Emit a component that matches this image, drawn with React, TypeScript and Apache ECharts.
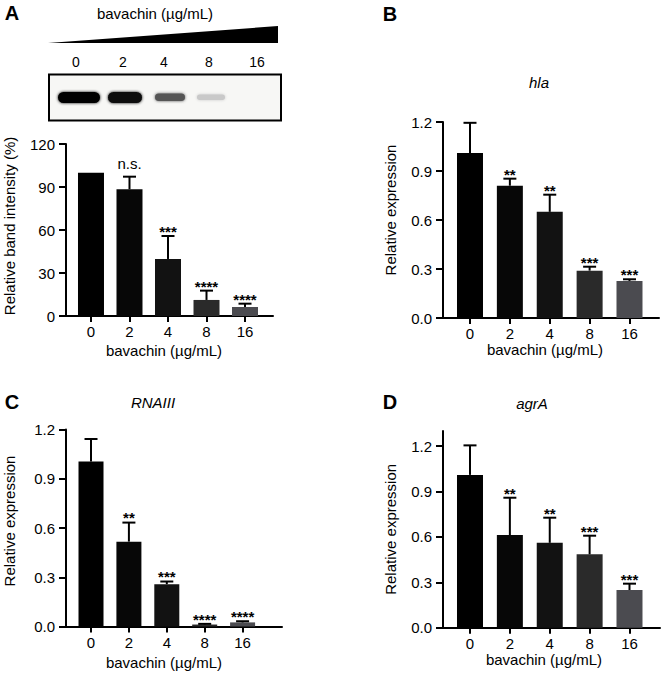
import React, { useEffect, useRef } from "react";
import * as echarts from "echarts";

// ---------- data ----------
const doses = ["0", "2", "4", "8", "16"];
const doseIndex = [0, 1, 2, 3, 4];

const bandMean = [100, 88.4, 39.8, 11.2, 6.3];
const bandSd = [0, 8.8, 16.0, 6.5, 2.3];
const bandSig = ["", "n.s.", "***", "****", "****"];

const hlaMean = [1.01, 0.81, 0.65, 0.29, 0.227];
const hlaSd = [0.185, 0.043, 0.105, 0.024, 0.01];
const hlaSig = ["", "**", "**", "***", "***"];

const rnaMean = [1.005, 0.517, 0.258, 0.012, 0.025];
const rnaSd = [0.137, 0.116, 0.016, 0.004, 0.007];
const rnaSig = ["", "**", "***", "****", "****"];

const agrMean = [1.01, 0.612, 0.561, 0.485, 0.249];
const agrSd = [0.195, 0.247, 0.166, 0.123, 0.042];
const agrSig = ["", "**", "**", "***", "***"];

const pctTicks = [0, 30, 60, 90, 120];
const exprTicks = [0, 0.3, 0.6, 0.9, 1.2];

// ---------- styles / layout ----------
const FONT = "'Liberation Sans', Arial, Helvetica, sans-serif";
const barColors = ["#000000", "#070707", "#121212", "#2a2a2a", "#4b4b50"];
const laneX = [76, 123, 164, 209, 257];

type Panel = {
  mean: number[];
  sd: number[];
  sig: string[];
  ticks: number[];
  yMax: number;
  dec: number;
  grid: { left: number; top: number; width: number; height: number };
  xMin: number;
  xMax: number;
  yName: string;
  yNameGap: number;
  yNameShift: number;
  xNameGap: number;
  xNameShift: number;
  barWidth: number;
};

const panels: Panel[] = [
  {
    mean: bandMean, sd: bandSd, sig: bandSig, ticks: pctTicks, yMax: 120, dec: 0,
    grid: { left: 66, top: 144, width: 207, height: 172 },
    xMin: -0.649, xMax: 4.727,
    yName: "Relative band intensity (%)", yNameGap: 49, yNameShift: 8,
    xNameGap: 27, xNameShift: 11, barWidth: 26,
  },
  {
    mean: hlaMean, sd: hlaSd, sig: hlaSig, ticks: exprTicks, yMax: 1.2, dec: 1,
    grid: { left: 443, top: 122, width: 216, height: 196 },
    xMin: -0.677, xMax: 4.74,
    yName: "Relative expression", yNameGap: 45, yNameShift: 20,
    xNameGap: 24, xNameShift: 12, barWidth: 26,
  },
  {
    mean: rnaMean, sd: rnaSd, sig: rnaSig, ticks: exprTicks, yMax: 1.2, dec: 1,
    grid: { left: 66, top: 429.5, width: 216, height: 197 },
    xMin: -0.66, xMax: 5.04,
    yName: "Relative expression", yNameGap: 49, yNameShift: 14,
    xNameGap: 28, xNameShift: 20, barWidth: 25,
  },
  {
    mean: agrMean, sd: agrSd, sig: agrSig, ticks: exprTicks, yMax: 1.3, dec: 1,
    grid: { left: 443, top: 431, width: 217, height: 196.7 },
    xMin: -0.677, xMax: 4.765,
    yName: "Relative expression", yNameGap: 45, yNameShift: 0,
    xNameGap: 21, xNameShift: 15, barWidth: 26,
  },
];

function buildOption() {
  const grids = panels.map((p) => ({ ...p.grid, containLabel: false, outerBoundsMode: "none" }));

  const xAxes = panels.map((p, i) => ({
    type: "value",
    gridIndex: i,
    min: p.xMin,
    max: p.xMax,
    axisLine: { show: true, onZero: false, lineStyle: { color: "#000", width: 2 } },
    axisTick: { show: true, length: 6, lineStyle: { color: "#000", width: 2 }, customValues: doseIndex },
    axisLabel: {
      customValues: doseIndex,
      formatter: (v: number) => doses[Math.round(v)] ?? "",
      fontSize: 15,
      color: "#000",
      fontFamily: FONT,
      margin: 8,
    },
    splitLine: { show: false },
    name: "bavachin (µg/mL)",
    nameLocation: "middle",
    nameGap: p.xNameGap,
    nameTextStyle: { fontSize: 15, color: "#000", fontFamily: FONT, padding: [0, p.xNameShift, 0, 0] },
  }));

  const yAxes = panels.map((p, i) => ({
    type: "value",
    gridIndex: i,
    min: 0,
    max: p.yMax,
    axisLine: { show: true, onZero: false, lineStyle: { color: "#000", width: 2 } },
    axisTick: { show: true, length: 7, lineStyle: { color: "#000", width: 2 }, customValues: p.ticks },
    axisLabel: {
      customValues: p.ticks,
      formatter: (v: number) => v.toFixed(p.dec),
      fontSize: 15,
      color: "#000",
      fontFamily: FONT,
      margin: 11,
    },
    splitLine: { show: false },
    name: p.yName,
    nameLocation: "middle",
    nameRotate: 90,
    nameGap: p.yNameGap,
    nameTextStyle: { fontSize: 15, color: "#000", fontFamily: FONT, padding: [0, 0, 0, p.yNameShift] },
  }));

  const series: any[] = [];
  panels.forEach((p, i) => {
    series.push({
      type: "bar",
      xAxisIndex: i,
      yAxisIndex: i,
      barWidth: p.barWidth,
      data: p.mean.map((m, k) => [doseIndex[k], m]),
      itemStyle: { color: (params: any) => barColors[params.dataIndex] },
      emphasis: { disabled: true },
      z: 2,
    });
    series.push({
      type: "custom",
      xAxisIndex: i,
      yAxisIndex: i,
      data: p.mean.map((m, k) => [doseIndex[k], m, m + p.sd[k]]),
      z: 3,
      renderItem: (params: any, api: any) => {
        const x = api.value(0);
        const v = api.value(1);
        const e = api.value(2);
        const top = api.coord([x, e]);
        const bar = api.coord([x, v]);
        const cx = top[0];
        const children: any[] = [];
        if (e > v) {
          children.push({
            type: "line",
            shape: { x1: cx, y1: bar[1], x2: cx, y2: top[1] },
            style: { stroke: "#000", lineWidth: 2 },
          });
          children.push({
            type: "line",
            shape: { x1: cx - 6.5, y1: top[1], x2: cx + 6.5, y2: top[1] },
            style: { stroke: "#000", lineWidth: 2 },
          });
        }
        const label = p.sig[params.dataIndex];
        if (label) {
          const isStar = label.indexOf("*") >= 0;
          children.push({
            type: "text",
            x: cx,
            y: top[1] - (isStar ? 4.6 : 13),
            style: {
              text: label,
              fill: "#000",
              fontSize: 15,
              fontWeight: isStar ? "bold" : "normal",
              fontFamily: FONT,
              align: "center",
              verticalAlign: "middle",
              textAlign: "center",
              textVerticalAlign: "middle",
            },
          });
        }
        return { type: "group", children };
      },
    });
  });

  const txt = (text: string, x: number, y: number, size: number, extra: any = {}) => ({
    type: "text",
    x,
    y,
    style: {
      text,
      fill: "#000",
      fontSize: size,
      fontFamily: FONT,
      align: "center",
      verticalAlign: "middle",
      textAlign: "center",
      textVerticalAlign: "middle",
      ...extra,
    },
  });

  const bandStyle = [
    { x: 58, y: 92, w: 42, h: 11, c: "#050505" },
    { x: 108, y: 92, w: 34, h: 11, c: "#0a0a0a" },
    { x: 155, y: 93.5, w: 30, h: 7.5, c: "#555555" },
    { x: 197, y: 94.5, w: 28, h: 5.5, c: "#c9c9c9" },
  ];

  const graphic: any[] = [
    txt("A", 12, 12.5, 20, { fontWeight: "bold" }),
    txt("B", 390, 14, 20, { fontWeight: "bold" }),
    txt("C", 12, 402, 20, { fontWeight: "bold" }),
    txt("D", 390, 402, 20, { fontWeight: "bold" }),
    txt("hla", 539, 82, 15, { fontStyle: "italic" }),
    txt("RNAIII", 153, 402, 15, { fontStyle: "italic" }),
    txt("agrA", 532, 403, 15, { fontStyle: "italic" }),
    txt("bavachin (µg/mL)", 155, 13, 15),
    {
      type: "polygon",
      shape: { points: [[48, 43], [278, 26], [278, 43]] },
      style: { fill: "#000" },
    },
    ...doses.map((d, k) => txt(d, laneX[k], 62, 14)),
    {
      type: "rect",
      shape: { x: 49, y: 74.5, width: 232, height: 46 },
      style: { fill: "#f7f7f5", stroke: "#000", lineWidth: 2 },
    },
    ...bandStyle.map((b) => ({
      type: "rect",
      shape: { x: b.x, y: b.y, width: b.w, height: b.h, r: b.h / 2 },
      style: { fill: b.c, shadowBlur: 3, shadowColor: b.c },
    })),
  ];

  return {
    animation: false,
    backgroundColor: "#ffffff",
    grid: grids,
    xAxis: xAxes,
    yAxis: yAxes,
    series,
    graphic,
  };
}

export default function App() {
  const ref = useRef<HTMLDivElement>(null);
  useEffect(() => {
    document.body.style.margin = "0";
    if (!ref.current) return;
    const chart = echarts.init(ref.current, null, { renderer: "svg" });
    chart.setOption(buildOption() as any);
    return () => chart.dispose();
  }, []);
  return <div ref={ref} style={{ width: 661, height: 675 }} />;
}
